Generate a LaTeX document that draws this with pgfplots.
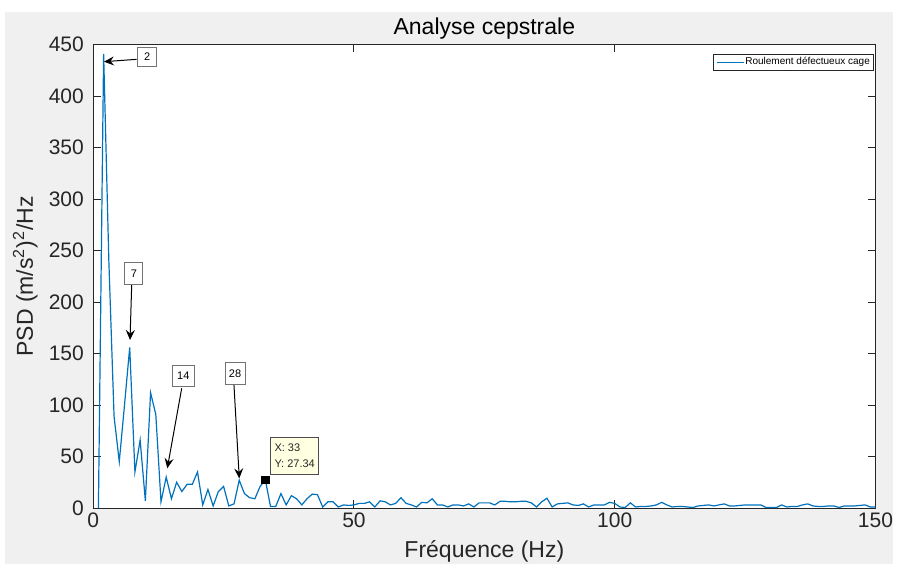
\documentclass[border=0pt]{standalone}
\usepackage{fontspec}
\setmainfont{Liberation Sans}
\usepackage{pgfplots}
\pgfplotsset{compat=1.18}
\usepackage{pgfplotstable}
\usetikzlibrary{arrows.meta}
\definecolor{mblue}{RGB}{0,114,189}
\definecolor{figgray}{RGB}{240,240,240}
\definecolor{axgray}{RGB}{38,38,38}
\definecolor{tipfill}{RGB}{255,255,225}
\pgfplotstableread{
x y
1 0
2 441
3 240
4 89
5 45
6 100
7 156
8 35
9 66
10 7
11 112
12 91
13 6
14 30
15 9
16 25
17 16
18 23
19 23
20 35
21 3
22 18
23 2
24 16
25 21
26 2
27 4
28 27
29 14
30 10
31 9
32 21
33 27.34
34 1.5
35 1.5
36 14
37 3
38 12
39 9
40 3
41 9
42 13.5
43 13
44 1
45 6
46 6
47 1
48 3
49 2.5
50 3
51 4.5
52 4.5
53 6
54 1
55 7
56 6
57 3
58 4.5
59 10
60 4.5
61 3
62 1
63 5.5
64 5
65 9
66 3
67 3
68 1
69 3
70 3
71 2
72 4
73 1
74 5
75 5
76 5
77 3
78 6.5
79 6.5
80 6
81 6
82 6.5
83 6.5
84 5
85 1
86 6
87 9.5
88 1
89 4
90 4.5
91 5
92 3
93 2.5
94 4
95 1
96 3
97 3
98 3
99 5.5
100 4.5
101 1
102 0.5
103 5
104 1
105 1.5
106 1.5
107 2
108 3
109 5.5
110 3
111 1
112 1.5
113 1.5
114 1
115 0.5
116 2
117 2.5
118 3
119 2
120 3
121 4
122 2
123 2
124 2.5
125 3
126 3
127 3
128 3
129 0.5
130 0.5
131 0.5
132 3
133 1
134 1.5
135 1.5
136 3
137 4
138 2
139 1.5
140 1.5
141 2
142 2
143 0.5
144 2
145 2
146 2
147 2.5
148 3
149 1
150 1
}\cepstre
\pgfplotstableread{
x y
33 27.34
}\tip
\begin{document}
\begin{tikzpicture}
\path[use as bounding box] (0,0) rectangle (449.5pt,282pt);
\fill[white] (0,0) rectangle (449.5pt,282pt);
\fill[figgray] (2.5pt,0) rectangle (446.5pt,276pt);
\begin{axis}[
  at={(46.6pt,28pt)}, anchor=south west,
  scale only axis, width=391.15pt, height=231.65pt,
  xmin=0, xmax=150, ymin=0, ymax=450,
  xtick={0,50,100,150}, ytick={0,50,...,450},
  axis background/.style={fill=white},
  axis line style={axgray, line width=0.5pt},
  tick style={axgray, line width=0.5pt},
  tick align=inside, major tick length=3.8pt,
  xtick pos=both, ytick pos=both,
  /pgf/number format/assume math mode=true,
  ticklabel style={font=\fontsize{10.5}{12}\selectfont, text=axgray},
  yticklabel style={inner sep=0pt, anchor=east, xshift=-4.5pt},
  xticklabel style={inner sep=0pt, anchor=north, yshift=-2pt},
  title={Analyse cepstrale},
  title style={at={(axis description cs:0.5,1.010)}, anchor=center, font=\fontsize{11.5}{13}\selectfont, text=black, inner sep=0pt},
  xlabel={Fréquence (Hz)},
  xlabel style={at={(axis description cs:0.5,-0.0928)}, anchor=center, font=\fontsize{11.5}{13}\selectfont, text=axgray, inner sep=0pt},
  ylabel={PSD (m/s\textsuperscript{\fontsize{8}{8}\selectfont 2})\textsuperscript{\fontsize{8}{8}\selectfont 2}/Hz},
  ylabel style={at={(axis description cs:-0.0869,0.5)}, anchor=center, font=\fontsize{11.5}{13}\selectfont, text=axgray, inner sep=0pt},
  legend style={at={(rel axis cs:0.9975,0.980)}, anchor=north east,
    draw=axgray, line width=0.5pt, fill=white,
    font=\fontsize{5}{6}\selectfont, inner xsep=1.2pt, inner ysep=1pt,
    nodes={inner sep=0.4pt},
    legend cell align=left},
  legend image code/.code={\draw[#1] (0pt,0pt) -- (13.5pt,0pt);},
]
\addplot[mblue, line width=0.6pt, sharp plot] table[x=x,y=y]{\cepstre};
\addlegendentry{Roulement défectueux cage}
\addplot[only marks, mark=square*, mark size=1.8pt, black, forget plot] table[x=x,y=y]{\tip};
% annotations
\tikzset{ann/.style={draw=black!55, line width=0.5pt, fill=white, inner sep=0pt, font=\fontsize{5.5}{6}\selectfont},
         arr/.style={black, line width=0.5pt, -{Stealth[length=5pt,width=4.5pt,inset=1.8pt]}}}
\draw[arr] (axis cs:8.34,435.8) -- (axis cs:2.07,433.5);
\node[ann, minimum width=9.5pt, minimum height=9.3pt] at (axis cs:10.35,438.3) {2};
\draw[arr] (axis cs:7.38,216.6) -- (axis cs:7.06,163.2);
\node[ann, minimum width=9pt, minimum height=11pt] at (axis cs:7.82,227.8) {7};
\draw[arr] (axis cs:16.97,116.3) -- (axis cs:14.21,38.6);
\node[ann, minimum width=11pt, minimum height=10.8pt] at (axis cs:17.28,128.4) {14};
\draw[arr] (axis cs:26.99,119.5) -- (axis cs:28.01,28.8);
\node[ann, minimum width=10pt, minimum height=10.8pt] at (axis cs:27.19,130.9) {28};
\node[draw=black!70, line width=0.5pt, fill=tipfill, anchor=south west, minimum width=22pt, minimum height=18.6pt, inner xsep=2pt, inner ysep=1.5pt, align=left, font=\fontsize{5.5}{8}\selectfont, text=axgray] at (axis cs:33.9,32.05) {X: 33\\Y: 27.34};
\end{axis}
\end{tikzpicture}
\end{document}
